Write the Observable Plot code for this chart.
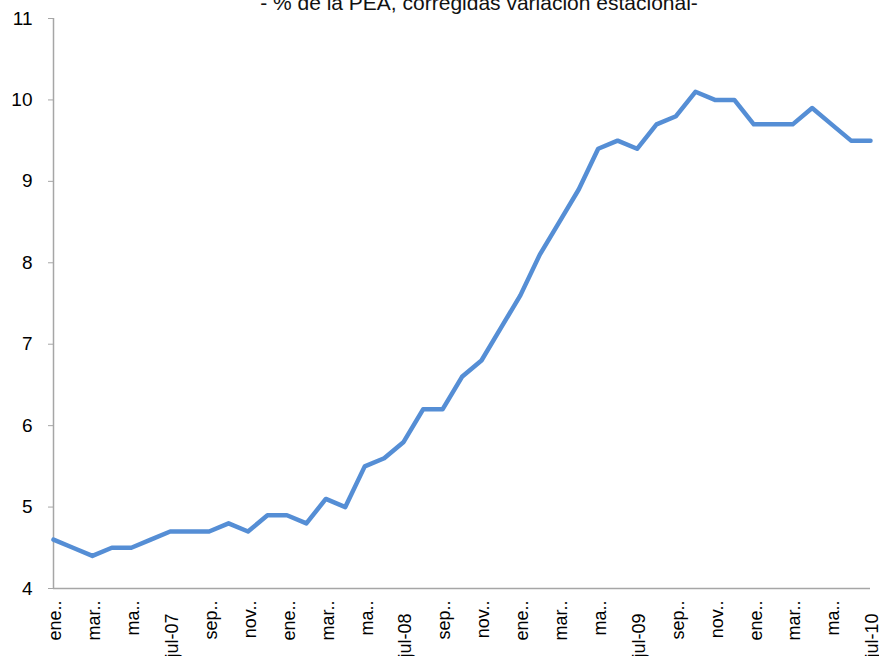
<!DOCTYPE html>
<html>
<head>
<meta charset="utf-8">
<script src="https://cdn.jsdelivr.net/npm/d3@7"></script>
<script src="https://cdn.jsdelivr.net/npm/@observablehq/plot@0.6"></script>
<style>
  html, body { margin: 0; padding: 0; background: #fff; }
  #chart svg { display: block; }
</style>
</head>
<body>
<div id="chart"></div>
<script>
const subtitle = "- % de la PEA, corregidas variación estacional-";

const months = [
  "ene-07","feb-07","mar-07","abr-07","may-07","jun-07","jul-07","ago-07","sep-07","oct-07","nov-07","dic-07",
  "ene-08","feb-08","mar-08","abr-08","may-08","jun-08","jul-08","ago-08","sep-08","oct-08","nov-08","dic-08",
  "ene-09","feb-09","mar-09","abr-09","may-09","jun-09","jul-09","ago-09","sep-09","oct-09","nov-09","dic-09",
  "ene-10","feb-10","mar-10","abr-10","may-10","jun-10","jul-10"
];

const values = [
  4.6, 4.5, 4.4, 4.5, 4.5, 4.6, 4.7, 4.7, 4.7, 4.8, 4.7, 4.9,
  4.9, 4.8, 5.1, 5.0, 5.5, 5.6, 5.8, 6.2, 6.2, 6.6, 6.8, 7.2,
  7.6, 8.1, 8.5, 8.9, 9.4, 9.5, 9.4, 9.7, 9.8, 10.1, 10.0, 10.0,
  9.7, 9.7, 9.7, 9.9, 9.7, 9.5, 9.5
];

const tickMonths = [
  "ene-07","mar-07","may-07","jul-07","sep-07","nov-07",
  "ene-08","mar-08","may-08","jul-08","sep-08","nov-08",
  "ene-09","mar-09","may-09","jul-09","sep-09","nov-09",
  "ene-10","mar-10","may-10","jul-10"
];

const tickLabels = [
  "ene..","mar..","ma..","jul-07","sep..","nov..",
  "ene..","mar..","ma..","jul-08","sep..","nov..",
  "ene..","mar..","ma..","jul-09","sep..","nov..",
  "ene..","mar..","ma..","jul-10"
];

const yTicks = [4, 5, 6, 7, 8, 9, 10, 11];

const data = months.map((m, i) => ({i, month: m, value: values[i]}));
const tickIndex = tickMonths.map(m => months.indexOf(m));
const labelAt = new Map(tickIndex.map((k, j) => [k, tickLabels[j]]));
const fullTicks = tickIndex.filter(k => !labelAt.get(k).endsWith(".."));
const shortTicks = tickIndex.filter(k => labelAt.get(k).endsWith(".."));

const axisGray = "#a6a6a6";

const chart = Plot.plot({
  width: 879,
  height: 656,
  marginLeft: 53,
  marginRight: 9,
  marginTop: 18,
  marginBottom: 68,
  style: {fontFamily: "'Liberation Sans', Arial, sans-serif", fontSize: "18px", color: "#000", background: "#fff"},
  x: {type: "linear", domain: [0, months.length - 1]},
  y: {domain: [4, 11]},
  marks: [
    Plot.text([subtitle], {frameAnchor: "top", lineAnchor: "bottom", dy: -9, dx: 17, fontSize: 21, fill: "#111"}),
    Plot.ruleX([0], {stroke: axisGray, strokeWidth: 1.5}),
    Plot.ruleY([4], {stroke: axisGray, strokeWidth: 1.5}),
    Plot.axisY({ticks: yTicks, tickFormat: d => String(d), tickSize: 5, tickPadding: 16, stroke: axisGray, fill: "#000", fontSize: 19, label: null}),
    Plot.axisX({ticks: shortTicks, tickFormat: d => labelAt.get(d), tickRotate: -90, tickSize: 0, tickPadding: 12, fontSize: 18, fill: "#000", label: null, dx: 2}),
    Plot.axisX({ticks: fullTicks, tickFormat: d => labelAt.get(d), tickRotate: -90, tickSize: 0, tickPadding: 25, fontSize: 18, fill: "#000", label: null, dx: 2}),
    Plot.line(data, {x: "i", y: "value", stroke: "#558ED5", strokeWidth: 4.5, strokeLinejoin: "round", strokeLinecap: "round"})
  ]
});

document.getElementById("chart").appendChild(chart);
</script>
</body>
</html>
